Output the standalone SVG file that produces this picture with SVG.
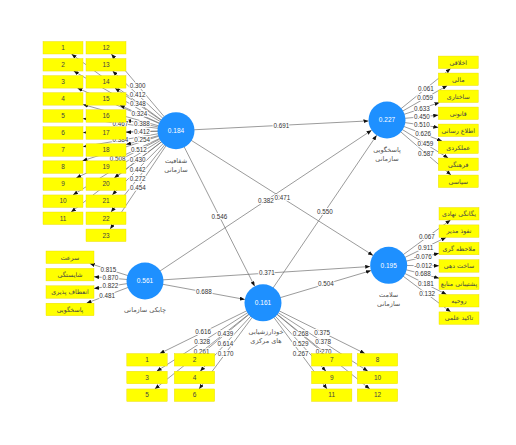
<svg xmlns="http://www.w3.org/2000/svg" width="516" height="445" viewBox="0 0 516 445">
<style>
.ln{stroke:#707070;stroke-width:0.7;fill:none;marker-end:url(#ah)}
.lb{font-family:"Liberation Sans",Arial,sans-serif;font-size:6.3px;fill:#333;text-anchor:middle;stroke:#fff;stroke-width:2.2px;paint-order:stroke;stroke-linejoin:round}
.bx{fill:#ffff00;stroke:#e8d800;stroke-width:0.4}
.bn{font-family:"Liberation Sans",Arial,sans-serif;font-size:6.5px;fill:#444;text-anchor:middle}
.bp{font-family:"DejaVu Sans",sans-serif;font-size:6.3px;fill:#444;text-anchor:middle}
.cc{fill:#1e90ff}
.cv{font-family:"Liberation Sans",Arial,sans-serif;font-size:6.5px;fill:#fff;text-anchor:middle}
.nn{font-family:"DejaVu Sans",sans-serif;font-size:6.5px;fill:#555;text-anchor:middle}
</style>
<defs>
<marker id="ah" markerUnits="userSpaceOnUse" markerWidth="5" markerHeight="4" refX="5" refY="2" orient="auto"><path d="M0,0 L5,2 L0,4 z" fill="#111"/></marker>
</defs>
<rect width="516" height="445" fill="#fff"/>
<g id="connectors">
<line class="ln" x1="176" y1="130.7" x2="71.5" y2="54.05"/>
<line class="ln" x1="176" y1="130.7" x2="73.7" y2="71.05"/>
<line class="ln" x1="176" y1="130.7" x2="77.5" y2="88.15"/>
<line class="ln" x1="176" y1="130.7" x2="83" y2="104.5"/>
<line class="ln" x1="176" y1="130.7" x2="83" y2="118.6"/>
<line class="ln" x1="176" y1="130.7" x2="83" y2="132.6"/>
<line class="ln" x1="176" y1="130.7" x2="83" y2="146.7"/>
<line class="ln" x1="176" y1="130.7" x2="82.4" y2="160.85"/>
<line class="ln" x1="176" y1="130.7" x2="76.2" y2="177.95"/>
<line class="ln" x1="176" y1="130.7" x2="73" y2="194.95"/>
<line class="ln" x1="176" y1="130.7" x2="71.1" y2="212.05"/>
<line class="ln" x1="176" y1="130.7" x2="111.3" y2="54.05"/>
<line class="ln" x1="176" y1="130.7" x2="112.6" y2="71.05"/>
<line class="ln" x1="176" y1="130.7" x2="115" y2="88.15"/>
<line class="ln" x1="176" y1="130.7" x2="119.8" y2="105.15"/>
<line class="ln" x1="176" y1="130.7" x2="126" y2="120.2"/>
<line class="ln" x1="176" y1="130.7" x2="126" y2="132.3"/>
<line class="ln" x1="176" y1="130.7" x2="126" y2="144.56"/>
<line class="ln" x1="176" y1="130.7" x2="118" y2="160.85"/>
<line class="ln" x1="176" y1="130.7" x2="114.2" y2="177.95"/>
<line class="ln" x1="176" y1="130.7" x2="112.2" y2="194.95"/>
<line class="ln" x1="176" y1="130.7" x2="111" y2="212.05"/>
<line class="ln" x1="176" y1="130.7" x2="110.2" y2="229.05"/>
<line class="ln" x1="387" y1="120" x2="450.6" y2="68.55"/>
<line class="ln" x1="387" y1="120" x2="447.3" y2="85.55"/>
<line class="ln" x1="387" y1="120" x2="439.5" y2="102.55"/>
<line class="ln" x1="387" y1="120" x2="438.3" y2="115.2"/>
<line class="ln" x1="387" y1="120" x2="438.3" y2="127.4"/>
<line class="ln" x1="387" y1="120" x2="442" y2="141.05"/>
<line class="ln" x1="387" y1="120" x2="448.2" y2="158.05"/>
<line class="ln" x1="387" y1="120" x2="451" y2="175.05"/>
<line class="ln" x1="388.7" y1="265.3" x2="450.5" y2="220"/>
<line class="ln" x1="388.7" y1="265.3" x2="446.1" y2="237.4"/>
<line class="ln" x1="388.7" y1="265.3" x2="439" y2="253.3"/>
<line class="ln" x1="388.7" y1="265.3" x2="439" y2="265.8"/>
<line class="ln" x1="388.7" y1="265.3" x2="439" y2="278.2"/>
<line class="ln" x1="388.7" y1="265.3" x2="446.6" y2="294.5"/>
<line class="ln" x1="388.7" y1="265.3" x2="450.7" y2="311.9"/>
<line class="ln" x1="145" y1="281" x2="89.7" y2="263.5"/>
<line class="ln" x1="145" y1="281" x2="94" y2="276.7"/>
<line class="ln" x1="145" y1="281" x2="94" y2="288.5"/>
<line class="ln" x1="145" y1="281" x2="86.5" y2="303.2"/>
<line class="ln" x1="263" y1="302.8" x2="159.7" y2="353.55"/>
<line class="ln" x1="263" y1="302.8" x2="156.7" y2="371.25"/>
<line class="ln" x1="263" y1="302.8" x2="154.8" y2="388.95"/>
<line class="ln" x1="263" y1="302.8" x2="202" y2="353.55"/>
<line class="ln" x1="263" y1="302.8" x2="200.2" y2="371.25"/>
<line class="ln" x1="263" y1="302.8" x2="199.1" y2="388.95"/>
<line class="ln" x1="263" y1="302.8" x2="324.2" y2="353.55"/>
<line class="ln" x1="263" y1="302.8" x2="325.95" y2="371.25"/>
<line class="ln" x1="263" y1="302.8" x2="327.05" y2="388.95"/>
<line class="ln" x1="263" y1="302.8" x2="364.95" y2="353.55"/>
<line class="ln" x1="263" y1="302.8" x2="367.9" y2="371.25"/>
<line class="ln" x1="263" y1="302.8" x2="369.75" y2="388.95"/>
<line class="ln" x1="176" y1="130.7" x2="368.5" y2="120.9"/>
<line class="ln" x1="176" y1="130.7" x2="373.07" y2="255.41"/>
<line class="ln" x1="176" y1="130.7" x2="254.65" y2="286.29"/>
<line class="ln" x1="145" y1="281" x2="371.6" y2="130.25"/>
<line class="ln" x1="145" y1="281" x2="370.24" y2="266.49"/>
<line class="ln" x1="145" y1="281" x2="244.81" y2="299.44"/>
<line class="ln" x1="263" y1="302.8" x2="376.62" y2="135.31"/>
<line class="ln" x1="263" y1="302.8" x2="370.98" y2="270.59"/>
</g>
<g id="connector-labels">
<text class="lb" x="120.3" y="125.7">0.467</text>
<text class="lb" x="120.4" y="142.4">0.384</text>
<text class="lb" x="117.7" y="160.5">0.508</text>
<text class="lb" x="137.7" y="87.5">0.300</text>
<text class="lb" x="137.6" y="96.7">0.412</text>
<text class="lb" x="137.9" y="106.3">0.348</text>
<text class="lb" x="139.5" y="116.3">0.324</text>
<text class="lb" x="141.9" y="125.7">0.388</text>
<text class="lb" x="141.8" y="134">0.412</text>
<text class="lb" x="142.1" y="142.3">0.254</text>
<text class="lb" x="138.8" y="152.2">0.512</text>
<text class="lb" x="137.7" y="162.1">0.430</text>
<text class="lb" x="137.6" y="171.6">0.442</text>
<text class="lb" x="137.7" y="180.8">0.272</text>
<text class="lb" x="137.9" y="189.8">0.454</text>
<text class="lb" x="426" y="90.7">0.061</text>
<text class="lb" x="425.2" y="100.4">0.059</text>
<text class="lb" x="422" y="110.6">0.633</text>
<text class="lb" x="421.9" y="118.9">0.450</text>
<text class="lb" x="421.8" y="127.2">0.510</text>
<text class="lb" x="423.1" y="136">0.626</text>
<text class="lb" x="425.5" y="146.1">0.459</text>
<text class="lb" x="426" y="155.8">0.587</text>
<text class="lb" x="427" y="239.4">0.067</text>
<text class="lb" x="425.7" y="249.5">0.911</text>
<text class="lb" x="422.85" y="259.4">-0.076</text>
<text class="lb" x="423.1" y="267.8">-0.012</text>
<text class="lb" x="422.8" y="276.3">0.688</text>
<text class="lb" x="425.9" y="286.3">0.181</text>
<text class="lb" x="427.1" y="296.4">0.132</text>
<text class="lb" x="108.5" y="271.6">0.815</text>
<text class="lb" x="110.3" y="280.3">0.870</text>
<text class="lb" x="110.35" y="288.3">0.822</text>
<text class="lb" x="107.1" y="297.6">0.481</text>
<text class="lb" x="203.05" y="334.45">0.616</text>
<text class="lb" x="202.1" y="344.2">0.328</text>
<text class="lb" x="201.7" y="353.85">0.261</text>
<text class="lb" x="225.4" y="336.3">0.439</text>
<text class="lb" x="225.4" y="346">0.614</text>
<text class="lb" x="225.55" y="355.5">0.170</text>
<text class="lb" x="300.7" y="336.3">0.268</text>
<text class="lb" x="300.7" y="346">0.529</text>
<text class="lb" x="300.55" y="355.5">0.267</text>
<text class="lb" x="322.25" y="334.5">0.375</text>
<text class="lb" x="323.2" y="344.3">0.378</text>
<text class="lb" x="323.6" y="353.9">0.270</text>
<text class="lb" x="281.5" y="127.6">0.691</text>
<text class="lb" x="282.35" y="200.2">0.471</text>
<text class="lb" x="219.5" y="218.95">0.546</text>
<text class="lb" x="266" y="202.7">0.382</text>
<text class="lb" x="266.85" y="275.35">0.371</text>
<text class="lb" x="204" y="294.1">0.688</text>
<text class="lb" x="325" y="213.6">0.550</text>
<text class="lb" x="325.85" y="286.25">0.504</text>
</g>
<g id="ind-t1"><rect class="bx" x="43" y="41.5" width="40" height="12.5"/><text class="bn" x="63" y="50">1</text></g>
<g id="ind-t2"><rect class="bx" x="43" y="58.55" width="40" height="12.5"/><text class="bn" x="63" y="67.05">2</text></g>
<g id="ind-t3"><rect class="bx" x="43" y="75.6" width="40" height="12.5"/><text class="bn" x="63" y="84.1">3</text></g>
<g id="ind-t4"><rect class="bx" x="43" y="92.65" width="40" height="12.5"/><text class="bn" x="63" y="101.15">4</text></g>
<g id="ind-t5"><rect class="bx" x="43" y="109.7" width="40" height="12.5"/><text class="bn" x="63" y="118.2">5</text></g>
<g id="ind-t6"><rect class="bx" x="43" y="126.75" width="40" height="12.5"/><text class="bn" x="63" y="135.25">6</text></g>
<g id="ind-t7"><rect class="bx" x="43" y="143.8" width="40" height="12.5"/><text class="bn" x="63" y="152.3">7</text></g>
<g id="ind-t8"><rect class="bx" x="43" y="160.85" width="40" height="12.5"/><text class="bn" x="63" y="169.35">8</text></g>
<g id="ind-t9"><rect class="bx" x="43" y="177.9" width="40" height="12.5"/><text class="bn" x="63" y="186.4">9</text></g>
<g id="ind-t10"><rect class="bx" x="43" y="194.95" width="40" height="12.5"/><text class="bn" x="63" y="203.45">10</text></g>
<g id="ind-t11"><rect class="bx" x="43" y="212" width="40" height="12.5"/><text class="bn" x="63" y="220.5">11</text></g>
<g id="ind-t12"><rect class="bx" x="86" y="41.5" width="40" height="12.5"/><text class="bn" x="106" y="50">12</text></g>
<g id="ind-t13"><rect class="bx" x="86" y="58.55" width="40" height="12.5"/><text class="bn" x="106" y="67.05">13</text></g>
<g id="ind-t14"><rect class="bx" x="86" y="75.6" width="40" height="12.5"/><text class="bn" x="106" y="84.1">14</text></g>
<g id="ind-t15"><rect class="bx" x="86" y="92.65" width="40" height="12.5"/><text class="bn" x="106" y="101.15">15</text></g>
<g id="ind-t16"><rect class="bx" x="86" y="109.7" width="40" height="12.5"/><text class="bn" x="106" y="118.2">16</text></g>
<g id="ind-t17"><rect class="bx" x="86" y="126.75" width="40" height="12.5"/><text class="bn" x="106" y="135.25">17</text></g>
<g id="ind-t18"><rect class="bx" x="86" y="143.8" width="40" height="12.5"/><text class="bn" x="106" y="152.3">18</text></g>
<g id="ind-t19"><rect class="bx" x="86" y="160.85" width="40" height="12.5"/><text class="bn" x="106" y="169.35">19</text></g>
<g id="ind-t20"><rect class="bx" x="86" y="177.9" width="40" height="12.5"/><text class="bn" x="106" y="186.4">20</text></g>
<g id="ind-t21"><rect class="bx" x="86" y="194.95" width="40" height="12.5"/><text class="bn" x="106" y="203.45">21</text></g>
<g id="ind-t22"><rect class="bx" x="86" y="212" width="40" height="12.5"/><text class="bn" x="106" y="220.5">22</text></g>
<g id="ind-t23"><rect class="bx" x="86" y="229.05" width="40" height="12.5"/><text class="bn" x="106" y="237.55">23</text></g>
<g id="ind-a1"><rect class="bx" x="438.3" y="56.05" width="40" height="12.5"/><text class="bp" x="458.3" y="64.6">اخلاقی</text></g>
<g id="ind-a2"><rect class="bx" x="438.3" y="73.05" width="40" height="12.5"/><text class="bp" x="458.3" y="81.6">مالی</text></g>
<g id="ind-a3"><rect class="bx" x="438.3" y="90.05" width="40" height="12.5"/><text class="bp" x="458.3" y="98.6">ساختاری</text></g>
<g id="ind-a4"><rect class="bx" x="438.3" y="107.05" width="40" height="12.5"/><text class="bp" x="458.3" y="115.6">قانونی</text></g>
<g id="ind-a5"><rect class="bx" x="438.3" y="124.05" width="40" height="12.5"/><text class="bp" x="458.3" y="132.6">اطلاع رسانی</text></g>
<g id="ind-a6"><rect class="bx" x="438.3" y="141.05" width="40" height="12.5"/><text class="bp" x="458.3" y="149.6">عملکردی</text></g>
<g id="ind-a7"><rect class="bx" x="438.3" y="158.05" width="40" height="12.5"/><text class="bp" x="458.3" y="166.6">فرهنگی</text></g>
<g id="ind-a8"><rect class="bx" x="438.3" y="175.05" width="40" height="12.5"/><text class="bp" x="458.3" y="183.6">سیاسی</text></g>
<g id="ind-b1"><rect class="bx" x="439" y="207.5" width="40" height="12.5"/><text class="bp" x="459" y="216.05">یگانگی نهادی</text></g>
<g id="ind-b2"><rect class="bx" x="439" y="224.9" width="40" height="12.5"/><text class="bp" x="459" y="233.45">نفوذ مدیر</text></g>
<g id="ind-b3"><rect class="bx" x="439" y="242.3" width="40" height="12.5"/><text class="bp" x="459" y="250.85">ملاحظه گری</text></g>
<g id="ind-b4"><rect class="bx" x="439" y="259.7" width="40" height="12.5"/><text class="bp" x="459" y="268.25">ساخت دهی</text></g>
<g id="ind-b5"><rect class="bx" x="439" y="277.1" width="40" height="12.5"/><text class="bp" x="459" y="285.65">پشتیبانی منابع</text></g>
<g id="ind-b6"><rect class="bx" x="439" y="294.5" width="40" height="12.5"/><text class="bp" x="459" y="303.05">روحیه</text></g>
<g id="ind-b7"><rect class="bx" x="439" y="311.9" width="40" height="12.5"/><text class="bp" x="459" y="320.45">تاکید علمی</text></g>
<g id="ind-c1"><rect class="bx" x="46" y="251" width="48" height="12.5"/><text class="bp" x="70" y="259.55">سرعت</text></g>
<g id="ind-c2"><rect class="bx" x="46" y="268.4" width="48" height="12.5"/><text class="bp" x="70" y="276.95">شایستگی</text></g>
<g id="ind-c3"><rect class="bx" x="46" y="285.8" width="48" height="12.5"/><text class="bp" x="70" y="294.35">انعطاف پذیری</text></g>
<g id="ind-c4"><rect class="bx" x="46" y="303.2" width="48" height="12.5"/><text class="bp" x="70" y="311.75">پاسخگویی</text></g>
<g id="ind-d1"><rect class="bx" x="126.8" y="353.55" width="40.4" height="12.5"/><text class="bn" x="147" y="362.05">1</text></g>
<g id="ind-d2"><rect class="bx" x="174.3" y="353.55" width="40.4" height="12.5"/><text class="bn" x="194.5" y="362.05">2</text></g>
<g id="ind-d3"><rect class="bx" x="126.8" y="371.25" width="40.4" height="12.5"/><text class="bn" x="147" y="379.75">3</text></g>
<g id="ind-d4"><rect class="bx" x="174.3" y="371.25" width="40.4" height="12.5"/><text class="bn" x="194.5" y="379.75">4</text></g>
<g id="ind-d5"><rect class="bx" x="126.8" y="388.95" width="40.4" height="12.5"/><text class="bn" x="147" y="397.45">5</text></g>
<g id="ind-d6"><rect class="bx" x="174.3" y="388.95" width="40.4" height="12.5"/><text class="bn" x="194.5" y="397.45">6</text></g>
<g id="ind-d7"><rect class="bx" x="311.5" y="353.55" width="40.4" height="12.5"/><text class="bn" x="331.7" y="362.05">7</text></g>
<g id="ind-d8"><rect class="bx" x="357.3" y="353.55" width="40.4" height="12.5"/><text class="bn" x="377.5" y="362.05">8</text></g>
<g id="ind-d9"><rect class="bx" x="311.5" y="371.25" width="40.4" height="12.5"/><text class="bn" x="331.7" y="379.75">9</text></g>
<g id="ind-d10"><rect class="bx" x="357.3" y="371.25" width="40.4" height="12.5"/><text class="bn" x="377.5" y="379.75">10</text></g>
<g id="ind-d11"><rect class="bx" x="311.5" y="388.95" width="40.4" height="12.5"/><text class="bn" x="331.7" y="397.45">11</text></g>
<g id="ind-d12"><rect class="bx" x="357.3" y="388.95" width="40.4" height="12.5"/><text class="bn" x="377.5" y="397.45">12</text></g>
<g id="node-transparency"><circle class="cc" cx="176" cy="130.7" r="18.5"/><text class="cv" x="176" y="133">0.184</text><text class="nn" x="176" y="163">شفافیت</text><text class="nn" x="176" y="172">سازمانی</text></g>
<g id="node-accountability"><circle class="cc" cx="387" cy="120" r="18.5"/><text class="cv" x="387" y="122.3">0.227</text><text class="nn" x="387" y="152.3">پاسخگویی</text><text class="nn" x="387" y="161">سازمانی</text></g>
<g id="node-health"><circle class="cc" cx="388.7" cy="265.3" r="18.5"/><text class="cv" x="388.7" y="267.6">0.195</text><text class="nn" x="388.7" y="296.5">سلامت</text><text class="nn" x="388.7" y="305.5">سازمانی</text></g>
<g id="node-agility"><circle class="cc" cx="145" cy="281" r="18.5"/><text class="cv" x="145" y="283.3">0.561</text><text class="nn" x="145" y="312.3">چابکی سازمانی</text></g>
<g id="node-cse"><circle class="cc" cx="263" cy="302.8" r="18.5"/><text class="cv" x="263" y="305.1">0.161</text><text class="nn" x="266" y="334">خودارزشیابی</text><text class="nn" x="266" y="343">های مرکزی</text></g>
</svg>
